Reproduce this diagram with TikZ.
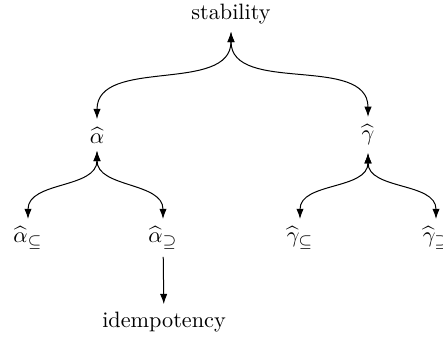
\documentclass[tikz,border=0pt]{standalone}
\usetikzlibrary{arrows.meta}
\begin{document}
\begin{tikzpicture}[x=0.45pt,y=-0.45pt,
  lbl/.style={inner sep=3.33pt},
  tip/.style={Latex[length=4.6pt,width=3.3pt]},
  link/.style={{Latex[length=4.6pt,width=3.3pt]}-{Latex[length=4.6pt,width=3.3pt]}, line width=0.45pt},
  down/.style={-{Latex[length=4.6pt,width=3.3pt]}, line width=0.45pt}]
\useasboundingbox (0,0) rectangle (443,343);
\node[lbl] (stab) at (231,14) {stability};
\node[lbl] (a) at (97,135) {$\widehat{\alpha}$};
\node[lbl] (g) at (368,135) {$\widehat{\gamma}$};
\node[lbl] (asub) at (28,238) {$\widehat{\alpha}_{\subseteq}$};
\node[lbl] (asup) at (163,238) {$\widehat{\alpha}_{\supseteq}$};
\node[lbl] (gsub) at (300,238) {$\widehat{\gamma}_{\subseteq}$};
\node[lbl] (gsup) at (436,238) {$\widehat{\gamma}_{\supseteq}$};
\node[lbl] (idem) at (164,322) {idempotency};
\draw[link] (stab) to[out=-90,in=90] (a);
\draw[link] (stab) to[out=-90,in=90] (g);
\draw[link] (a) to[out=-90,in=90] (asub);
\draw[link] (a) to[out=-90,in=90] (asup);
\draw[link] (g) to[out=-90,in=90] (gsub);
\draw[link] (g) to[out=-90,in=90] (gsup);
\draw[down] (asup) -- (idem);
\end{tikzpicture}
\end{document}
